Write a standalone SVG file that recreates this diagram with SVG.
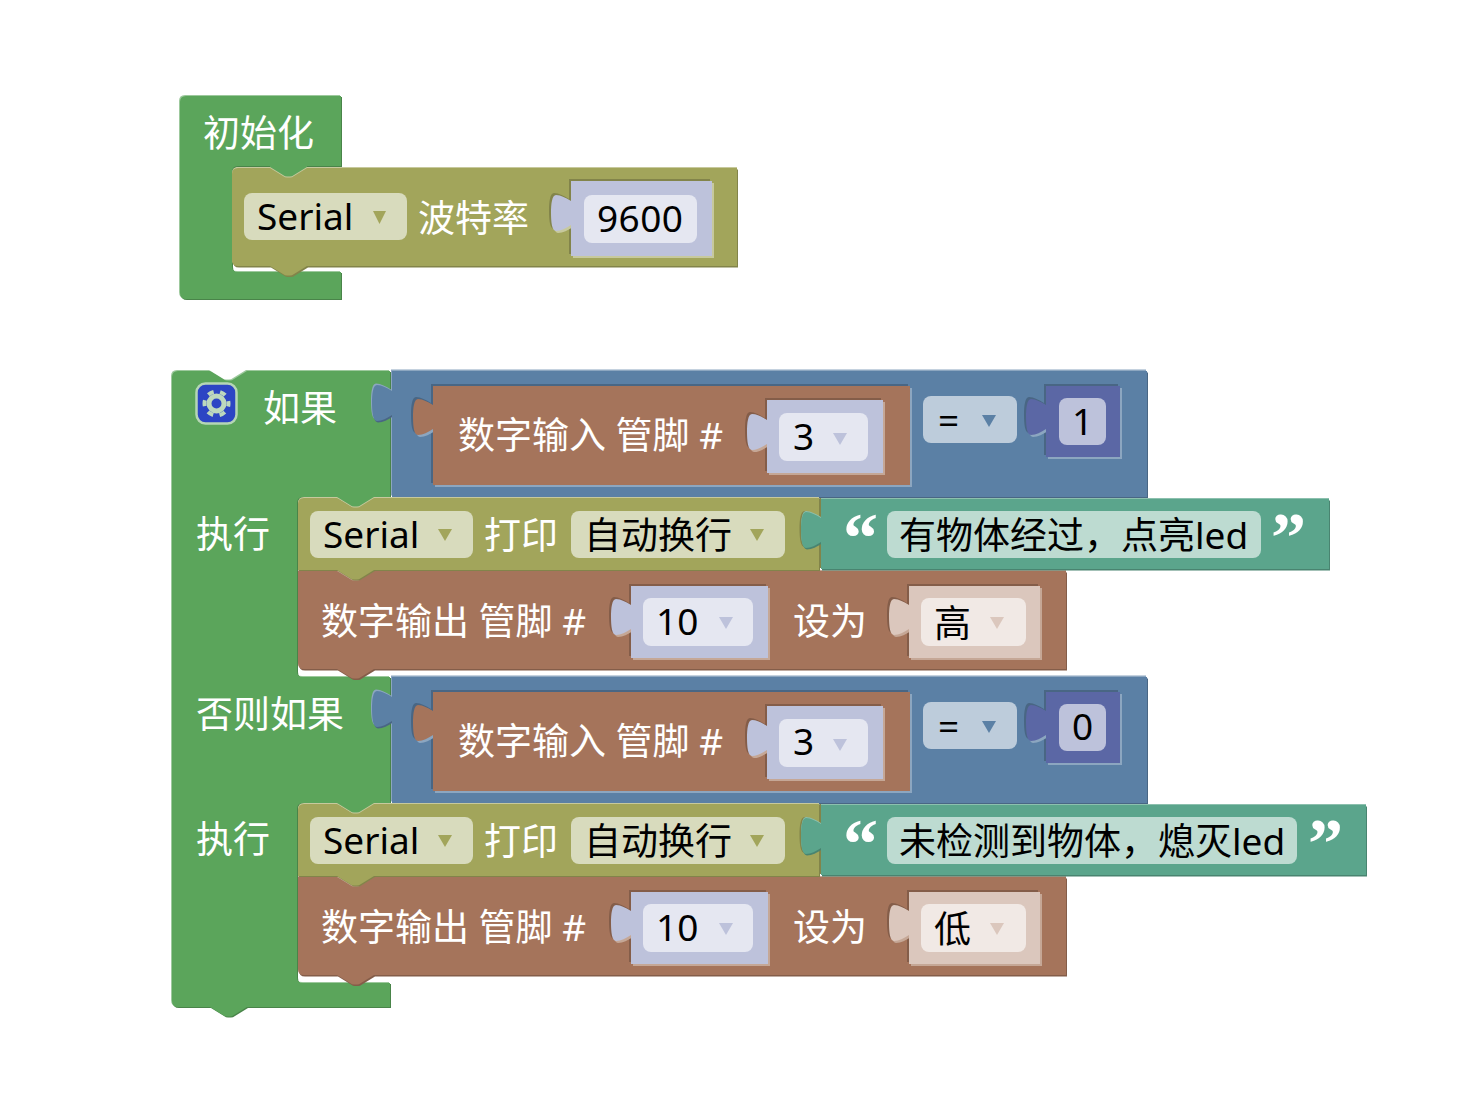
<svg xmlns="http://www.w3.org/2000/svg" width="1472" height="1106" viewBox="0 0 1472 1106">
<style>
text{font-family:"Noto Sans","Noto Sans CJK SC",sans-serif;font-size:37px}
.w{fill:#fff}.k{fill:#000}
.q{font-family:"Liberation Serif",serif;font-weight:bold;font-size:70px;fill:#fff}
.g{fill:#5ba55b}.gl{fill:#9dc99d}.gd{fill:#498449}
.o{fill:#a2a55b}.ol{fill:#c7c99d}.od{fill:#82844a}
.b{fill:#5b80a5}.bl{fill:#8ca6c0}.bd{fill:#496684}
.r{fill:#a5745b}.rl{fill:#c5a796}.rd{fill:#845d49}
.t{fill:#5ba58c}.tl{fill:#8cc0ae}.td{fill:#498470}
.v{fill:#bdc2db}.i{fill:#5b67a5}.p{fill:#dbc7bd}
.fo{fill:#d8dbbd}.fv{fill:#e5e7f1}.fb{fill:#bdccdb}.ft{fill:#bddbd1}.fi{fill:#bdc2db}.fp{fill:#f1e9e5}
</style>
<defs>
<path id="init" d="M180,102q0,-6 6,-6H341V166H307V168l-13,8q-2,1.500 -4,1.500h-3q-2,0 -4,-1.500l-13,-8V166H238q-6,0 -6,6V266q0,6 6,6H341V299H186q-6,0 -6,-6z"/>
<path id="serial" d="M232,174q0,-6 6,-6H270l13,8q2,1.500 4,1.500h3q2,0 4,-1.500l13,-8H737V266H307l-13,8q-2,1.500 -4,1.500h-3q-2,0 -4,-1.500l-13,-8H238q-6,0 -6,-6z"/>
<path id="v9600" d="M571,181H712V256H571V225c-5,3 -10,6 -15,6c-4,0 -5,-9 -5,-18c0,-9 1,-18 5,-18c5,0 10,3 15,6z"/>
<path id="ifb" d="M172,377q0,-6 6,-6H210l13,8q2,1.500 4,1.500h3q2,0 4,-1.500l13,-8H390V497H374V498l-13,8q-2,1.500 -4,1.500h-3q-2,0 -4,-1.500l-13,-8V497H303q-6,0 -6,6V671q0,6 6,6H390V803H374V804l-13,8q-2,1.500 -4,1.500h-3q-2,0 -4,-1.500l-13,-8V803H303q-6,0 -6,6V977q0,6 6,6H390V1007H247l-13,8q-2,1.500 -4,1.500h-3q-2,0 -4,-1.500l-13,-8H178q-6,0 -6,-6z"/>
<path id="blue" d="M392,371H1147V497H392V415c-5,3 -10,6 -15,6c-4,0 -5,-9 -5,-18c0,-9 1,-18 5,-18c5,0 10,3 15,6z"/>
<path id="din" d="M433,386H910V485H433V429c-5,3 -10,6 -15,6c-4,0 -5,-9 -5,-18c0,-9 1,-18 5,-18c5,0 10,3 15,6z"/>
<path id="v3" d="M767,400H883V473H767V444c-5,3 -10,6 -15,6c-4,0 -5,-9 -5,-18c0,-9 1,-18 5,-18c5,0 10,3 15,6z"/>
<path id="num" d="M1046,386H1120V457H1046V429c-5,3 -10,6 -15,6c-4,0 -5,-9 -5,-18c0,-9 1,-18 5,-18c5,0 10,3 15,6z"/>
<path id="print" d="M298,504q0,-6 6,-6H337l13,8q2,1.500 4,1.500h3q2,0 4,-1.500l13,-8H819V570H374l-13,8q-2,1.500 -4,1.500h-3q-2,0 -4,-1.500l-13,-8H298z"/>
<path id="str1" d="M821,499H1329V569H821V542c-5,3 -10,6 -15,6c-4,0 -5,-9 -5,-18c0,-9 1,-18 5,-18c5,0 10,3 15,6z"/>
<path id="str2" d="M821,499H1366V569H821V542c-5,3 -10,6 -15,6c-4,0 -5,-9 -5,-18c0,-9 1,-18 5,-18c5,0 10,3 15,6z"/>
<path id="dout" d="M298,571H337l13,8q2,1.500 4,1.500h3q2,0 4,-1.500l13,-8H1066V669H374l-13,8q-2,1.500 -4,1.500h-3q-2,0 -4,-1.500l-13,-8H304q-6,0 -6,-6z"/>
<path id="v10" d="M631,586H768V658H631V629c-5,3 -10,6 -15,6c-4,0 -5,-9 -5,-18c0,-9 1,-18 5,-18c5,0 10,3 15,6z"/>
<path id="lvl" d="M909,586H1040V658H909V629c-5,3 -10,6 -15,6c-4,0 -5,-9 -5,-18c0,-9 1,-18 5,-18c5,0 10,3 15,6z"/>
</defs>

<g id="connectors"/>

<g id="node-setup">
<use href="#init" class="gl" transform="translate(-1 -1)"/><use href="#init" class="gd" transform="translate(1 1)"/><use href="#init" class="g"/>
<text class="w" x="203" y="147">初始化</text>
</g>

<g id="node-serial-begin">
<use href="#serial" class="ol" transform="translate(0 -1)"/><use href="#serial" class="od" transform="translate(1 1.500)"/><use href="#serial" class="o"/>
<rect class="fo" x="244" y="193" width="163" height="47" rx="8"/>
<text class="k" x="257" y="230">Serial</text>
<polygon class="o" points="373,211 386,211 379.500,224"/>
<text class="w" x="418" y="232">波特率</text>
<use href="#v9600" class="od" transform="translate(-2 -2)"/><use href="#v9600" class="ol" transform="translate(2 2)"/><use href="#v9600" class="v"/>
<rect class="fv" x="584" y="195" width="113" height="48" rx="8"/>
<text class="k" x="597" y="232" textLength="86">9600</text>
</g>

<g id="node-if">
<use href="#ifb" class="gl" transform="translate(-1 -1)"/><use href="#ifb" class="gd" transform="translate(1 1)"/><use href="#ifb" class="g"/>
<rect x="196.500" y="383.500" width="40" height="40" rx="9" fill="#2c45c4" stroke="#b5d6b5" stroke-width="2.500"/>
<circle cx="216.500" cy="403.500" r="7.500" fill="none" stroke="#bdd8bd" stroke-width="5"/>
<circle cx="216.500" cy="403.500" r="12" fill="none" stroke="#bdd8bd" stroke-width="4" stroke-dasharray="6 6.570" stroke-dashoffset="3"/>
<text class="w" x="263" y="422">如果</text>
<text class="w" x="196" y="548">执行</text>
<text class="w" x="196" y="728">否则如果</text>
<text class="w" x="196" y="853">执行</text>
</g>

<g id="node-cond1">
<use href="#blue" class="bl" transform="translate(-1 -1.500)"/><use href="#blue" class="bd" transform="translate(1 1.500)"/><use href="#blue" class="b"/>
<use href="#din" class="bd" transform="translate(-2 -2)"/><use href="#din" class="bl" transform="translate(2 2)"/><use href="#din" class="r"/>
<text class="w" x="458" y="449">数字输入 管脚 #</text>
<use href="#v3" class="rd" transform="translate(-2 -2)"/><use href="#v3" class="rl" transform="translate(2 2)"/><use href="#v3" class="v"/>
<rect class="fv" x="779" y="413" width="89" height="48" rx="8"/>
<text class="k" x="793" y="450">3</text>
<polygon class="v" points="833,433 847,433 840,445"/>
<rect class="fb" x="923" y="396" width="94" height="47" rx="8"/>
<text class="k" x="938" y="434">=</text>
<polygon class="b" points="982,415 996,415 989,427"/>
<use href="#num" class="bd" transform="translate(-2 -2)"/><use href="#num" class="bl" transform="translate(2 2)"/><use href="#num" class="i"/>
<rect class="fi" x="1059" y="398" width="47" height="47" rx="8"/>
<text class="k" x="1072" y="435">1</text>
</g>

<g id="node-print1">
<use href="#dout" class="rl" transform="translate(0 -1)"/>
<use href="#dout" class="rd" transform="translate(1 1.500)"/><use href="#dout" class="r"/>
<use href="#print" class="ol" transform="translate(0 -1)"/><use href="#print" class="od" transform="translate(1 1)"/><use href="#print" class="o"/>
<rect class="fo" x="310" y="511" width="163" height="47" rx="8"/>
<text class="k" x="323" y="548">Serial</text>
<polygon class="o" points="438,529 452,529 445,541"/>
<text class="w" x="484" y="549">打印</text>
<rect class="fo" x="571" y="511" width="214" height="47" rx="8"/>
<text class="k" x="584" y="549">自动换行</text>
<polygon class="o" points="750,529 764,529 757,541"/>
<use href="#str1" class="od" transform="translate(-1.500 -1)"/><use href="#str1" class="tl" transform="translate(0 -1)"/><use href="#str1" class="td" transform="translate(1 1.500)"/><use href="#str1" class="t"/>
<text class="q" x="843" y="561">“</text>
<rect class="ft" x="887" y="511" width="374" height="47" rx="8"/>
<text class="k" x="899" y="549">有物体经过，点亮led</text>
<text class="q" x="1271" y="561">”</text>
</g>

<g id="node-write1">
<text class="w" x="321" y="635">数字输出 管脚 #</text>
<use href="#v10" class="rd" transform="translate(-2 -2)"/><use href="#v10" class="rl" transform="translate(2 2)"/><use href="#v10" class="v"/>
<rect class="fv" x="643" y="598" width="110" height="48" rx="8"/>
<text class="k" x="656" y="635">10</text>
<polygon class="v" points="719,617 733,617 726,629"/>
<text class="w" x="793" y="635">设为</text>
<use href="#lvl" class="rd" transform="translate(-2 -2)"/><use href="#lvl" class="rl" transform="translate(2 2)"/><use href="#lvl" class="p"/>
<rect class="fp" x="921" y="598" width="105" height="48" rx="8"/>
<text class="k" x="934" y="637">高</text>
<polygon class="p" points="990,617 1004,617 997,629"/>
</g>

<g id="node-cond2" transform="translate(0 306)">
<use href="#blue" class="bl" transform="translate(-1 -1.500)"/><use href="#blue" class="bd" transform="translate(1 1.500)"/><use href="#blue" class="b"/>
<use href="#din" class="bd" transform="translate(-2 -2)"/><use href="#din" class="bl" transform="translate(2 2)"/><use href="#din" class="r"/>
<text class="w" x="458" y="449">数字输入 管脚 #</text>
<use href="#v3" class="rd" transform="translate(-2 -2)"/><use href="#v3" class="rl" transform="translate(2 2)"/><use href="#v3" class="v"/>
<rect class="fv" x="779" y="413" width="89" height="48" rx="8"/>
<text class="k" x="793" y="449">3</text>
<polygon class="v" points="833,433 847,433 840,445"/>
<rect class="fb" x="923" y="396" width="94" height="47" rx="8"/>
<text class="k" x="938" y="434">=</text>
<polygon class="b" points="982,415 996,415 989,427"/>
<use href="#num" class="bd" transform="translate(-2 -2)"/><use href="#num" class="bl" transform="translate(2 2)"/><use href="#num" class="i"/>
<rect class="fi" x="1059" y="398" width="47" height="47" rx="8"/>
<text class="k" x="1072" y="434">0</text>
</g>

<g id="node-print2" transform="translate(0 306)">
<use href="#dout" class="rl" transform="translate(0 -1)"/>
<use href="#dout" class="rd" transform="translate(1 1.500)"/><use href="#dout" class="r"/>
<use href="#print" class="ol" transform="translate(0 -1)"/><use href="#print" class="od" transform="translate(1 1)"/><use href="#print" class="o"/>
<rect class="fo" x="310" y="511" width="163" height="47" rx="8"/>
<text class="k" x="323" y="548">Serial</text>
<polygon class="o" points="438,529 452,529 445,541"/>
<text class="w" x="484" y="549">打印</text>
<rect class="fo" x="571" y="511" width="214" height="47" rx="8"/>
<text class="k" x="584" y="549">自动换行</text>
<polygon class="o" points="750,529 764,529 757,541"/>
<use href="#str2" class="od" transform="translate(-1.500 -1)"/><use href="#str2" class="tl" transform="translate(0 -1)"/><use href="#str2" class="td" transform="translate(1 1.500)"/><use href="#str2" class="t"/>
<text class="q" x="843" y="561">“</text>
<rect class="ft" x="887" y="511" width="410" height="47" rx="8"/>
<text class="k" x="899" y="549">未检测到物体，熄灭led</text>
<text class="q" x="1308" y="561">”</text>
</g>

<g id="node-write2" transform="translate(0 306)">
<text class="w" x="321" y="635">数字输出 管脚 #</text>
<use href="#v10" class="rd" transform="translate(-2 -2)"/><use href="#v10" class="rl" transform="translate(2 2)"/><use href="#v10" class="v"/>
<rect class="fv" x="643" y="598" width="110" height="48" rx="8"/>
<text class="k" x="656" y="635">10</text>
<polygon class="v" points="719,617 733,617 726,629"/>
<text class="w" x="793" y="635">设为</text>
<use href="#lvl" class="rd" transform="translate(-2 -2)"/><use href="#lvl" class="rl" transform="translate(2 2)"/><use href="#lvl" class="p"/>
<rect class="fp" x="921" y="598" width="105" height="48" rx="8"/>
<text class="k" x="934" y="637">低</text>
<polygon class="p" points="990,617 1004,617 997,629"/>
</g>
</svg>
